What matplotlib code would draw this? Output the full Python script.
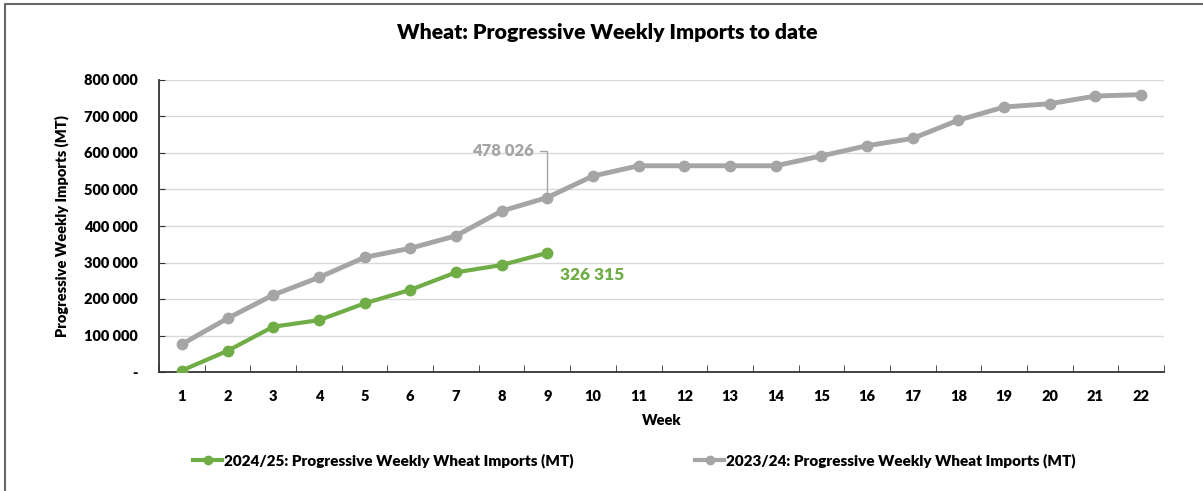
import matplotlib
matplotlib.use("Agg")
import matplotlib.pyplot as plt
from matplotlib.lines import Line2D
from matplotlib.ticker import FuncFormatter, MultipleLocator, FixedLocator

plt.rcParams['font.family'] = ['Lato', 'DejaVu Sans']
WT = 'heavy'
plt.rcParams['font.weight'] = WT

weeks = list(range(1, 23))
imports_2024 = [4000, 58000, 124000, 142000, 188000, 225000, 273000, 293000, 326315]
imports_2023 = [76000, 147000, 211000, 259000, 314000, 339000, 373000, 441000, 478026,
                537000, 565000, 565000, 565000, 565000, 592000, 620000, 640000, 690000,
                726000, 735000, 756000, 760000]
label_2024 = "2024/25: Progressive Weekly Wheat Imports (MT)"
label_2023 = "2023/24: Progressive Weekly Wheat Imports (MT)"
title = "Wheat: Progressive Weekly Imports to date"

green = "#70ad47"
gray = "#a5a5a5"

W, H = 1203, 491
fig = plt.figure(figsize=(W / 100, H / 100), dpi=100)
ax = fig.add_axes([159 / W, 1 - 372 / H, (1164 - 159) / W, (372 - 80) / H])

l23, = ax.plot(weeks, imports_2023, color=gray, lw=3.5, marker='o', ms=7.5,
               solid_capstyle='round', zorder=3)
l24, = ax.plot(weeks[:len(imports_2024)], imports_2024, color=green, lw=3, marker='o',
               ms=7.5, solid_capstyle='round', zorder=4)

ax.set_xlim(0.5, 22.5)
ax.set_ylim(0, 800000)
ax.yaxis.set_major_locator(MultipleLocator(100000))
ax.yaxis.set_major_formatter(FuncFormatter(
    lambda v, p: "-" if v == 0 else f"{int(v):,}".replace(",", " ")))
ax.set_xticks(weeks)
ax.xaxis.set_minor_locator(FixedLocator([w + 0.5 for w in weeks[:-1]] + [0.5, 22.5]))
ax.tick_params(axis='x', which='major', length=0, pad=13, labelsize=10.5)
ax.tick_params(axis='x', which='minor', length=5, direction='in', color='#333333')
ax.tick_params(axis='y', which='major', length=4, direction='in', pad=15, labelsize=10.5,
               color='#333333')
for lab in ax.get_xticklabels() + ax.get_yticklabels():
    lab.set_fontweight(WT)

ax.grid(axis='y', color='#d9d9d9', lw=1)
ax.set_axisbelow(True)
for s in ['top', 'right']:
    ax.spines[s].set_visible(False)
for s in ['left', 'bottom']:
    ax.spines[s].set_color('#333333')
    ax.spines[s].set_linewidth(1.3)

ax.set_xlabel("Week", fontsize=10.5, fontweight=WT, labelpad=8)
ax.set_ylabel("Progressive Weekly Imports (MT)", fontsize=10.5, fontweight=WT, labelpad=11)

fig.text(607 / W, 1 - 32 / H, title, ha='center', va='center',
         fontsize=15.3, fontweight=WT)

# data labels
i9 = len(imports_2024) - 1
ax.annotate(f"{imports_2023[i9]:,}".replace(",", " "), xy=(weeks[i9], imports_2023[i9]),
            xytext=(-10, 33.6), textcoords='offset points', ha='right', va='center',
            fontsize=12, fontweight=WT, color=gray,
            arrowprops=dict(arrowstyle='-', color=gray, lw=1,
                            connectionstyle='angle,angleA=0,angleB=90,rad=0',
                            shrinkA=3, shrinkB=4))
ax.annotate(f"{imports_2024[i9]:,}".replace(",", " "), xy=(weeks[i9], imports_2024[i9]),
            xytext=(9.4, -15.6), textcoords='offset points', ha='left', va='center',
            fontsize=12.5, fontweight=WT, color=green)

# legends
for handle, lab, x0 in [(l24, label_2024, 193), (l23, label_2023, 695)]:
    h = Line2D([], [], color=handle.get_color(), lw=3, marker='o', ms=6)
    fig.legend([h], [lab], loc='center left', bbox_to_anchor=(x0 / W, 1 - 461 / H),
               frameon=False, handlelength=1.9, handletextpad=0.15,
               borderaxespad=0, borderpad=0,
               prop={'size': 11, 'weight': WT, 'family': ['Lato', 'DejaVu Sans']})

# outer border (top and left)
fig.add_artist(Line2D([5 / W, 5 / W, 1], [0, 1 - 4 / H, 1 - 4 / H], transform=fig.transFigure,
                      color='#666666', lw=1.5))

fig.savefig("out.png", dpi=100)
